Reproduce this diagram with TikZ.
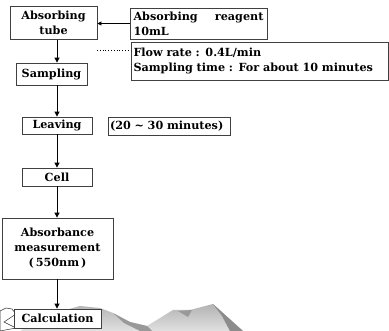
\documentclass[tikz,border=0pt]{standalone}
\usepackage{fontspec}
\setmainfont{DejaVu Serif}
\usetikzlibrary{arrows.meta}
\begin{document}
\begin{tikzpicture}[x=1pt,y=-1pt,
  box/.style={draw=black!75,line width=0.8pt,fill=white,inner sep=2pt,
    font=\fontsize{11.2}{15}\selectfont\bfseries,align=center},
  arr/.style={line width=0.9pt,-{Triangle[length=5pt,width=5pt]}}]
\useasboundingbox (0,0) rectangle (389,331);

% snowy hills along the bottom edge
\shade[top color=black!30,bottom color=black!12] (20,331) -- (45,316) -- (80,306)
  -- (100,308) -- (113,313) -- (130,322) -- (147,326) -- (160,318) -- (173,310)
  -- (190,310) -- (213,304) -- (243,331) -- cycle;
\fill[black!40] (113,313) -- (130,322) -- (147,326) -- (152,331) -- (140,331)
  -- (124,323) -- cycle;
\fill[black!45] (213,304) -- (243,331) -- (230,331) -- (222,316) -- cycle;
\fill[black!40] (178,311) -- (192,310) -- (188,317) -- cycle;
\draw[black!80,fill=white,line width=0.5pt] (0,311) -- (6,308) -- (12,309)
  -- (16,314) -- (10,318) -- (4,322) -- (16,328) -- (0,331) -- cycle;

% process boxes
\node[box,minimum width=87pt,minimum height=33pt] (tube) at (53.5,23) {Absorbing\\tube};
\node[box,minimum width=137pt,minimum height=31pt,align=left,text width=130pt]
  (reagent) at (198.5,23.5) {Absorbing\hfill reagent\\10mL};
\node[box,minimum width=257pt,minimum height=38pt,align=left,text width=252pt]
  (flow) at (259.5,61) {Flow rate : 0.4L/min\\Sampling time : For about 10 minutes};
\node[box,minimum width=71pt,minimum height=22pt] (sampling) at (51.5,74) {Sampling};
\node[box,minimum width=70pt,minimum height=17pt] (leaving) at (57,125.5) {Leaving};
\node[box,minimum width=122pt,minimum height=18pt,align=left,text width=118pt]
  (wait) at (169,126) {(20 \textasciitilde\ 30 minutes)};
\node[box,minimum width=70pt,minimum height=18pt] (cell) at (57,177) {Cell};
\node[box,minimum width=111pt,minimum height=61pt] (absorb) at (57.5,248.5)
  {Absorbance\\measurement\\(\,550nm\,)};
\node[box,minimum width=87pt,minimum height=19pt] (calc) at (57.5,318.5) {Calculation};

% flow connectors
\draw[arr] (tube.south -| cell.center) -- (sampling.north -| cell.center);
\draw[arr] (sampling.south -| cell.center) -- (leaving.north);
\draw[arr] (leaving.south) -- (cell.north);
\draw[arr] (cell.south) -- (absorb.north -| cell.center);
\draw[arr] (absorb.south -| cell.center) -- (calc.north -| cell.center);
\draw[line width=0.6pt,-{Triangle[length=4pt,width=4pt]}] (reagent.west) -- (reagent.west -| tube.east);
\coordinate (dot) at (97,50);
\draw[line width=0.8pt,dotted] (dot) -- (dot -| flow.west);
\end{tikzpicture}
\end{document}
